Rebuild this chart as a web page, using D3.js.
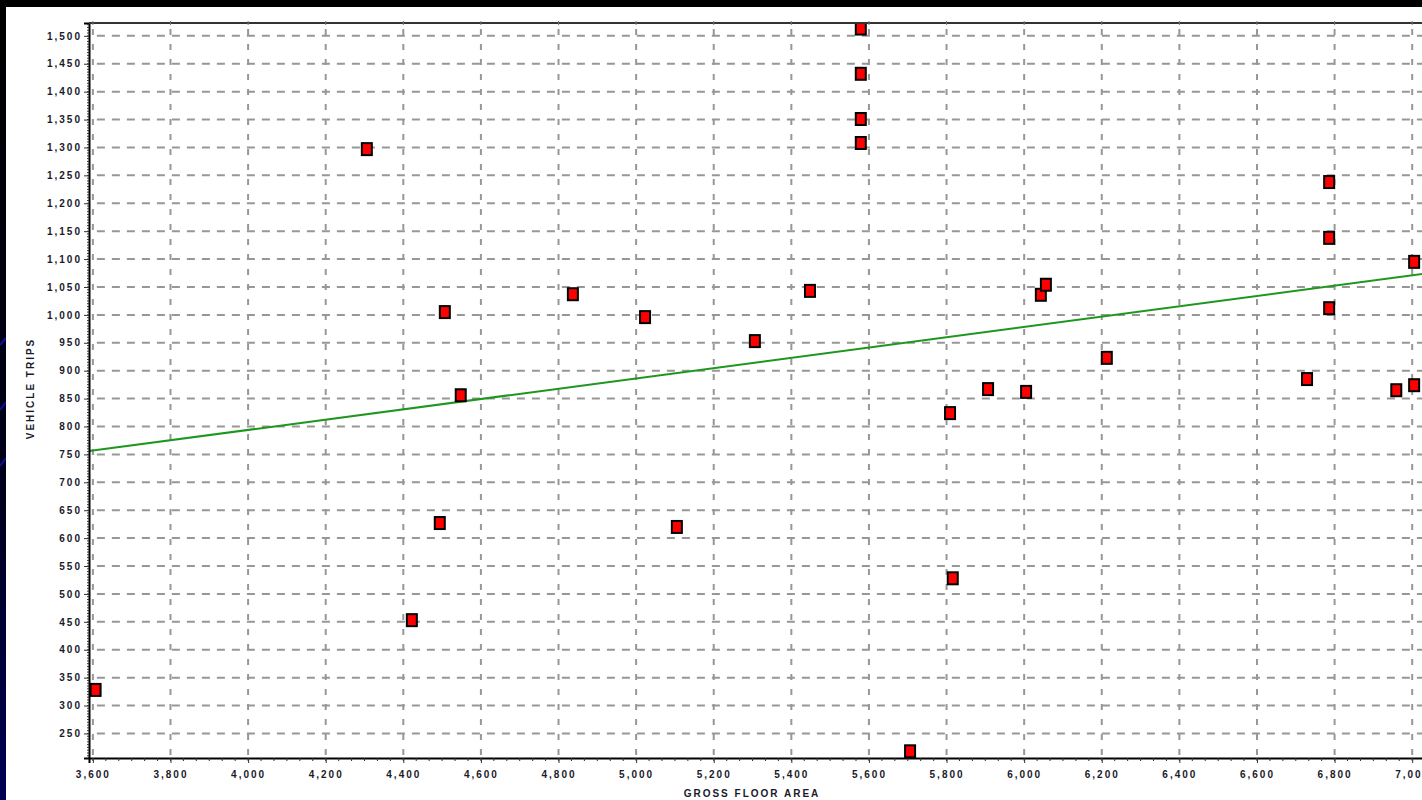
<!DOCTYPE html>
<html>
<head>
<meta charset="utf-8">
<script src="https://cdn.jsdelivr.net/npm/d3@7"></script>
<style>
  html, body { margin: 0; padding: 0; background: #000; overflow: hidden; }
  svg { display: block; }
  .tick-label { font-family: "Liberation Sans", Arial, sans-serif; font-size: 10px; font-weight: bold; fill: #1a1a2a; letter-spacing: 2px; }
  .axis-title { font-family: "Liberation Sans", Arial, sans-serif; font-size: 10px; font-weight: bold; fill: #1a1a2a; letter-spacing: 2px; }
</style>
</head>
<body>
<svg id="chart"></svg>
<script>
"use strict";

// gross floor area (x) and vehicle trips (y)
const grossFloorArea = [
  3607, 4306, 4422, 4494, 4507, 4548, 4837, 5023, 5105, 5306,
  5448, 5579, 5579, 5579, 5579, 5706, 5809, 5816, 5907, 6005,
  6043, 6056, 6213, 6729, 6786, 6786, 6786, 6959, 7005, 7005,
];
const vehicleTrips = [
  328, 1297, 453, 627, 1005, 856, 1037, 996, 620, 953,
  1043, 1513, 1432, 1351, 1308, 218, 824, 528, 867, 862,
  1036, 1054, 923, 885, 1238, 1138, 1012, 865, 1095, 874,
];

// fitted trend line, as its two end points
const trendArea = [3590, 7033];
const trendTrips = [756, 1074];

const xTicks = d3.range(3600, 7001, 200);
const yTicks = d3.range(250, 1501, 50);

const width = 1422;
const height = 800;
const plot = { left: 89, top: 23, right: 1425, bottom: 758 };

const svg = d3.select("#chart").attr("width", width).attr("height", height);

// slide background: black band on top, dark strip on the left
const grad = svg.append("defs").append("linearGradient")
  .attr("id", "strip").attr("x1", 0).attr("y1", 0).attr("x2", 0).attr("y2", 1);
grad.append("stop").attr("offset", "0%").attr("stop-color", "#000000");
grad.append("stop").attr("offset", "60%").attr("stop-color", "#00001a");
grad.append("stop").attr("offset", "100%").attr("stop-color", "#000055");

svg.append("rect").attr("width", width).attr("height", height).attr("fill", "#000");
svg.append("rect").attr("x", 0).attr("y", 0).attr("width", 6).attr("height", height).attr("fill", "url(#strip)");
[[345, 338], [410, 402], [466, 458]].forEach(([y1, y2]) => {
  svg.append("line").attr("x1", 0).attr("x2", 6).attr("y1", y1).attr("y2", y2)
    .attr("stroke", "#1010a0").attr("stroke-width", 2);
});
svg.append("rect").attr("x", 6).attr("y", 7).attr("width", width - 6).attr("height", height - 7).attr("fill", "#fff");

const x = d3.scaleLinear().domain([3590, 7033]).range([plot.left, plot.right]);
const y = d3.scaleLinear().domain([206, 1523]).range([plot.bottom, plot.top]);

svg.append("clipPath").attr("id", "plotClip").append("rect")
  .attr("x", plot.left).attr("y", plot.top)
  .attr("width", plot.right - plot.left).attr("height", plot.bottom - plot.top);

const graph = svg.append("g").attr("clip-path", "url(#plotClip)");

// dashed grid
graph.append("g").selectAll("line").data(yTicks).join("line")
  .attr("x1", x(3600)).attr("x2", plot.right)
  .attr("y1", (d) => y(d)).attr("y2", (d) => y(d))
  .attr("stroke", "#979797").attr("stroke-width", 2)
  .attr("stroke-dasharray", "8,7").attr("stroke-dashoffset", -4);

graph.append("g").selectAll("line").data(xTicks).join("line")
  .attr("x1", (d) => x(d)).attr("x2", (d) => x(d))
  .attr("y1", plot.top).attr("y2", plot.bottom)
  .attr("stroke", "#979797").attr("stroke-width", 2)
  .attr("stroke-dasharray", "6,9").attr("stroke-dashoffset", -6);

// trend line
const line = d3.line().x((d) => x(d[0])).y((d) => y(d[1]));
graph.append("path")
  .datum(d3.zip(trendArea, trendTrips))
  .attr("d", line)
  .attr("fill", "none")
  .attr("stroke", "#1f961f")
  .attr("stroke-width", 2);

// points
graph.append("g").selectAll("rect").data(d3.zip(grossFloorArea, vehicleTrips)).join("rect")
  .attr("x", (d) => x(d[0]) - 5)
  .attr("y", (d) => y(d[1]) - 6)
  .attr("width", 10)
  .attr("height", 12)
  .attr("fill", "#ff0000")
  .attr("stroke", "#000")
  .attr("stroke-width", 2);

// axes
const xAxis = d3.axisBottom(x).tickValues(xTicks).tickSize(5).tickPadding(8)
  .tickFormat(d3.format(","));
const xAxisGroup = svg.append("g").attr("transform", `translate(0,${plot.bottom})`).call(xAxis);

const yAxis = d3.axisLeft(y).tickValues(yTicks).tickSize(5).tickPadding(2)
  .tickFormat(d3.format(","));
const yAxisGroup = svg.append("g").attr("transform", `translate(${plot.left},0)`).call(yAxis);

[xAxisGroup, yAxisGroup].forEach((g) => {
  g.select(".domain").attr("stroke", "#000").attr("stroke-width", 2);
  g.selectAll(".tick line").attr("stroke", "#333");
  g.selectAll(".tick text").attr("class", "tick-label").attr("font-size", null).attr("font-family", null);
  g.attr("font-size", null).attr("font-family", null);
});

// minor ticks
const xMinor = d3.range(3600, 7020, 200 / 6).filter((d) => x(d) <= width);
svg.append("g").selectAll("line").data(xMinor).join("line")
  .attr("x1", (d) => x(d)).attr("x2", (d) => x(d))
  .attr("y1", plot.bottom).attr("y2", plot.bottom + 3)
  .attr("stroke", "#333").attr("stroke-width", 1);

const yMinor = d3.range(210, 1521, 5);
svg.append("g").selectAll("line").data(yMinor).join("line")
  .attr("x1", plot.left - 2).attr("x2", plot.left)
  .attr("y1", (d) => y(d)).attr("y2", (d) => y(d))
  .attr("stroke", "#333").attr("stroke-width", 1);

// top frame with small ticks
svg.append("line")
  .attr("x1", plot.left).attr("x2", width)
  .attr("y1", plot.top).attr("y2", plot.top)
  .attr("stroke", "#333").attr("stroke-width", 2);
svg.append("g").selectAll("line").data(xTicks).join("line")
  .attr("x1", (d) => x(d)).attr("x2", (d) => x(d))
  .attr("y1", plot.top - 2).attr("y2", plot.top + 2)
  .attr("stroke", "#777").attr("stroke-width", 1);

// axis titles
svg.append("text").attr("class", "axis-title")
  .attr("x", 752).attr("y", 797)
  .attr("text-anchor", "middle")
  .text("GROSS FLOOR AREA");

svg.append("text").attr("class", "axis-title")
  .attr("transform", `translate(34,${(plot.top + plot.bottom) / 2 - 2}) rotate(-90)`)
  .attr("text-anchor", "middle")
  .text("VEHICLE TRIPS");
</script>
</body>
</html>
